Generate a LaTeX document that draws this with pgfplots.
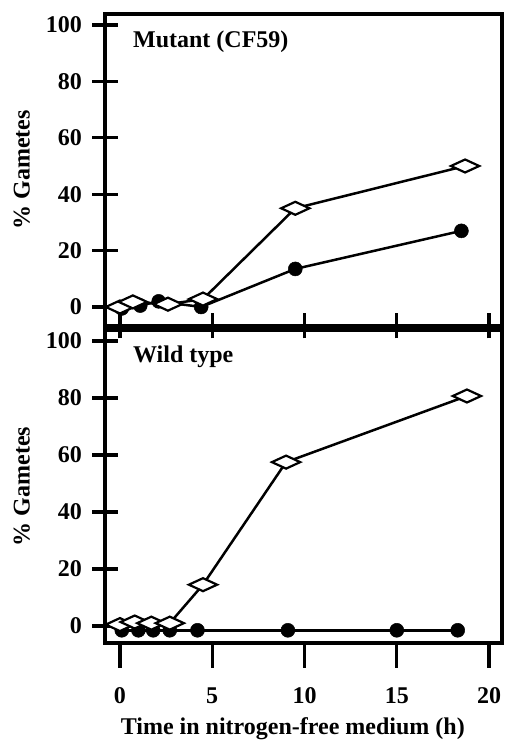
\documentclass[border=0pt]{standalone}
\usepackage{fontspec}
\setmainfont{Liberation Serif}
\usepackage{pgfplots}
\pgfplotsset{compat=1.18}
\begin{document}
\begin{tikzpicture}
\useasboundingbox (0pt,0pt) rectangle (505pt,741pt);
\pgfplotsset{
  panel/.style={
    scale only axis, width=397pt, anchor=south west,
    xmin=-0.81, xmax=20.7,
    axis line style={line width=4.5pt},
    xtick={0,5,10,15,20}, ytick={0,20,40,60,80,100},
    xtick pos=left, ytick pos=left,
    tick style={line width=3.2pt, black},
    /pgf/number format/assume math mode=true,
    tick label style={font=\fontsize{24}{28}\selectfont\bfseries},
    yticklabel style={xshift=-7pt},
    xticklabel style={yshift=-16pt},
    label style={font=\fontsize{24}{28}\selectfont\bfseries},
    ylabel={\% Gametes},
    ylabel style={at={(axis description cs:-0.19,0.5)}, anchor=base, rotate=0},
    clip=false,
  },
  circ/.style={line width=2.5pt, black, mark=*, mark size=7pt, mark options={solid, fill=black, line width=0.5pt}},
  diam/.style={line width=2.5pt, black, mark=diamond*, mark size=6.5pt, mark options={solid, fill=white, line width=2.2pt, xscale=2.9}},
}
% top panel: Mutant
\begin{axis}[panel, at={(105pt,415pt)}, height=312pt,
  ymin=-6.74, ymax=103.9,
  xticklabels={},
  xtick align=center, ytick align=center,
  major tick length=25pt,
]
\addplot[circ] coordinates {(0.1,-0.5) (1.1,0.5) (2.1,2) (4.4,0) (9.5,13.5) (18.5,27)};
\addplot[diam] coordinates {(0,0) (0.7,1.8) (2.6,1) (4.5,2.8) (9.5,35) (18.7,50)};
\node[anchor=base west, font=\fontsize{24}{28}\selectfont\bfseries] at (axis description cs:0.062,0.891) {Mutant (CF59)};
\end{axis}
% bottom panel: Wild type
\begin{axis}[panel, at={(105pt,98pt)}, height=313pt,
  ymin=-5.96, ymax=103.86,
  xtick align=outside, ytick align=center,
  major tick length=25pt,
  xlabel={Time in nitrogen-free medium (h)},
  xlabel style={at={(axis description cs:0.473,-0.292)}, anchor=base},
]
\addplot[circ] coordinates {(0.1,-1.5) (1.0,-1.5) (1.8,-1.5) (2.7,-1.5) (4.2,-1.5) (9.1,-1.5) (15.0,-1.5) (18.3,-1.5)};
\addplot[diam] coordinates {(0,0.5) (0.8,1.4) (1.7,1) (2.7,1) (4.5,14.5) (9.0,57.5) (18.8,80.7)};
\node[anchor=base west, font=\fontsize{24}{28}\selectfont\bfseries] at (axis description cs:0.062,0.897) {Wild type};
\end{axis}
\end{tikzpicture}
\end{document}
